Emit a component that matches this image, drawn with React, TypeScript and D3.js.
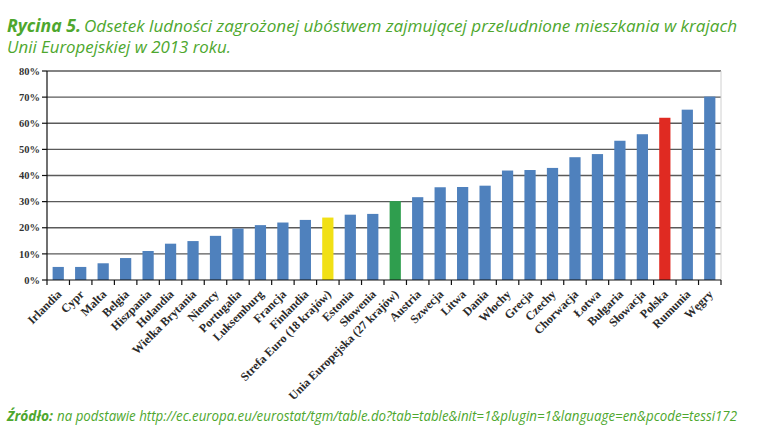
import React from "react";
import * as d3 from "d3";

const categories = [
  "Irlandia", "Cypr", "Malta", "Belgia", "Hiszpania", "Holandia", "Wielka Brytania",
  "Niemcy", "Portugalia", "Luksemburg", "Francja", "Finlandia", "Strefa Euro (18 krajów)",
  "Estonia", "Słowenia", "Unia Europejska (27 krajów)", "Austria", "Szwecja", "Litwa",
  "Dania", "Włochy", "Grecja", "Czechy", "Chorwacja", "Łotwa", "Bułgaria", "Słowacja",
  "Polska", "Rumunia", "Węgry",
];
const values = [
  5.0, 5.0, 6.4, 8.4, 11.1, 13.9, 14.9, 16.9, 19.7, 21.0, 22.0, 23.0, 23.9, 25.0, 25.3,
  30.2, 31.7, 35.5, 35.6, 36.1, 41.9, 42.1, 42.9, 47.0, 48.2, 53.3, 55.8, 62.1, 65.2, 70.2,
];
const highlight: Record<string, string> = {
  "Strefa Euro (18 krajów)": "#f1e015",
  "Unia Europejska (27 krajów)": "#2f9e4e",
  "Polska": "#e02a22",
};
const yTicks = [0, 10, 20, 30, 40, 50, 60, 70, 80];

const W = 771, H = 441;
const left = 47, right = 721, top = 71, bottom = 280;
const green = "#4ea72e";

export default function App() {
  const x = d3.scaleBand<string>().domain(categories).range([left, right]).paddingInner(0.5).paddingOuter(0.25);
  const y = d3.scaleLinear().domain([0, 80]).range([bottom, top]);
  const step = x.step();
  const boundaries = d3.range(categories.length + 1).map((i) => left + i * step);
  return (
    <svg width={W} height={H} style={{ position: "absolute", left: 0, top: 0, background: "#fff" }}>
      {/* title */}
      <text x={7} y={31.5} fill={green} fontFamily="'Open Sans', sans-serif" fontStyle="italic" fontSize={17}>
        <tspan fontWeight="bold" textLength={74} lengthAdjust="spacingAndGlyphs">Rycina 5.</tspan>
      </text>
      <text x={84} y={31.5} fill={green} fontFamily="'Open Sans', sans-serif" fontStyle="italic" fontSize={17}
        textLength={653} lengthAdjust="spacingAndGlyphs">
        Odsetek ludności zagrożonej ubóstwem zajmującej przeludnione mieszkania w krajach
      </text>
      <text x={7} y={52.5} fill={green} fontFamily="'Open Sans', sans-serif" fontStyle="italic" fontSize={17}
        textLength={224} lengthAdjust="spacingAndGlyphs">
        Unii Europejskiej w 2013 roku.
      </text>

      {/* gridlines */}
      {yTicks.filter((t) => t > 0).map((t) => (
        <line key={t} x1={left} x2={right} y1={y(t)} y2={y(t)} stroke="#5a5a5a" strokeWidth={1.3} />
      ))}
      <line x1={right} x2={right} y1={top} y2={bottom} stroke="#d0d0d0" strokeWidth={1} />

      {/* bars */}
      {categories.map((c, i) => (
        <rect key={c} x={x(c)} y={y(values[i])} width={x.bandwidth()} height={bottom - y(values[i])}
          fill={highlight[c] || "#4f81bd"} />
      ))}

      {/* axes */}
      <line x1={left} x2={left} y1={top} y2={bottom} stroke="#111" strokeWidth={1.2} />
      <line x1={left} x2={right} y1={bottom} y2={bottom} stroke="#111" strokeWidth={1.2} />
      {yTicks.map((t) => (
        <g key={t}>
          <line x1={left - 5} x2={left} y1={y(t)} y2={y(t)} stroke="#111" strokeWidth={1.2} />
          <text x={40} y={y(t)} dy="0.35em" textAnchor="end" fontFamily="'Liberation Serif', serif"
            fontWeight="bold" fontSize={10.5} fill="#333">{t}%</text>
        </g>
      ))}
      {boundaries.map((b, i) => (
        <line key={i} x1={b} x2={b} y1={bottom} y2={bottom + 5} stroke="#111" strokeWidth={1.2} />
      ))}
      {categories.map((c) => {
        const cx = (x(c) as number) + x.bandwidth() / 2;
        return (
          <text key={c} transform={`translate(${cx + 4},${bottom + 15}) rotate(-45)`} textAnchor="end"
            fontFamily="'Liberation Serif', serif" fontWeight="bold" fontSize={12} fill="#2a2a2a">{c}</text>
        );
      })}

      {/* footer */}
      <text x={7} y={421} fill={green} fontFamily="'Open Sans', sans-serif" fontStyle="italic" fontSize={14}
        fontWeight="bold" textLength={46} lengthAdjust="spacingAndGlyphs">Źródło:</text>
      <text x={57} y={421} fill={green} fontFamily="'Open Sans', sans-serif" fontStyle="italic" fontSize={14}
        textLength={680} lengthAdjust="spacingAndGlyphs">
        na podstawie http://ec.europa.eu/eurostat/tgm/table.do?tab=table&amp;init=1&amp;plugin=1&amp;language=en&amp;pcode=tessi172
      </text>
    </svg>
  );
}
